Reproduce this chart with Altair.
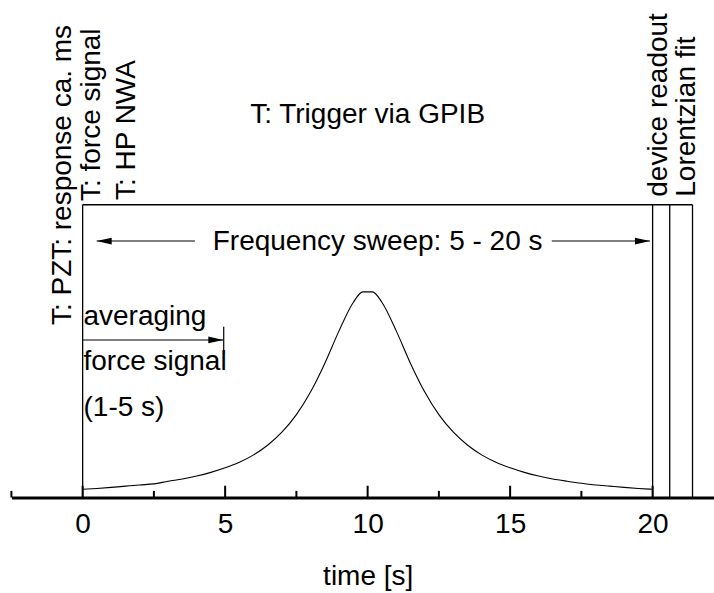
import altair as alt
import pandas as pd

# ---- data -------------------------------------------------------------
# Lorentzian-like response of the frequency sweep (normalised amplitude)
curve_t = [0, 0.5, 1, 1.5, 2, 2.5, 3, 3.5, 4, 4.5, 5, 5.5, 6, 6.5, 7, 7.5, 8, 8.5, 9, 9.5,
           9.833, 10.167,
           10.5, 11, 11.5, 12, 12.5, 13, 13.5, 14, 14.5, 15, 15.5, 16, 16.5, 17, 17.5,
           18, 18.5, 19, 19.5, 20]
curve_s = [0.040, 0.044, 0.049, 0.055, 0.061, 0.066, 0.079, 0.090, 0.104, 0.122, 0.144,
           0.171, 0.207, 0.255, 0.318, 0.402, 0.513, 0.652, 0.810, 0.948,
           0.998, 0.998,
           0.948, 0.810, 0.652, 0.513, 0.402, 0.318, 0.255, 0.207, 0.171, 0.144, 0.122,
           0.104, 0.090, 0.079, 0.069, 0.061, 0.055, 0.049, 0.044, 0.040]

major_ticks = [0, 5, 10, 15, 20]
minor_ticks = [-2.5, 2.5, 7.5, 12.5, 17.5]
event_times = [0, 20, 20.6, 21.4]          # trigger / sweep end / readout / fit
frame_top = 1.421                          # level of the timing frame

horiz_center_text = ["T: Trigger via GPIB", "Frequency sweep: 5 - 20 s"]
horiz_center_t = [10.0, 10.35]
horiz_center_s = [1.819, 1.2015]

horiz_left_text = ["averaging", "force signal", "(1-5 s)"]
horiz_left_t = [0.03, 0.03, 0.03]
horiz_left_s = [0.837, 0.619, 0.397]

vert_text = ["T: PZT: response ca. ms", "T: force signal", "T: HP NWA",
             "device readout", "Lorentzian fit"]
vert_t = [-0.41, 0.607, 1.835, 20.49, 21.48]
vert_s = [0.837, 1.439, 1.444, 1.46, 1.46]

# arrows: (start, end, level)
arrow_t1 = [0.493, 16.46, 0.0]
arrow_t2 = [3.94, 19.905, 4.935]
arrow_s = [1.245, 1.245, 0.7646]
left_heads_t = [0.493]
left_heads_s = [1.245]
right_heads_t = [19.905, 4.935]
right_heads_s = [1.245, 0.7646]

FONT = "Liberation Sans"
FS = 28
MAJOR_LEN = 0.057
MINOR_LEN = 0.032

xscale = alt.Scale(domain=[-2.5, 22.15], nice=False, zero=False)
yscale = alt.Scale(domain=[0, 2.415], nice=False, zero=True)
xaxis = alt.Axis(values=major_ticks, ticks=False, tickSize=0, grid=False,
                 domainWidth=3, domainColor="black",
                 labelFont=FONT, labelFontSize=FS, labelColor="black", labelPadding=13,
                 title="time [s]", titleFont=FONT, titleFontSize=FS,
                 titleFontWeight="normal", titleColor="black",
                 titleX=356.3, titleY=87.5, titleBaseline="alphabetic", titleAlign="center")

def X(field="t"):
    return alt.X(f"{field}:Q", scale=xscale, axis=xaxis, title="time [s]")

def Y(field="s"):
    return alt.Y(f"{field}:Q", scale=yscale, axis=None)

curve_df = pd.DataFrame({"t": curve_t, "s": curve_s})
curve = alt.Chart(curve_df).mark_line(color="black", strokeWidth=1.1, interpolate="monotone").encode(
    x=X(), y=Y())

ticks_df = pd.DataFrame({
    "t": major_ticks + minor_ticks,
    "s": [0.0] * (len(major_ticks) + len(minor_ticks)),
    "s2": [MAJOR_LEN] * len(major_ticks) + [MINOR_LEN] * len(minor_ticks),
})
ticks = alt.Chart(ticks_df).mark_rule(color="black", strokeWidth=2).encode(
    x=X(), y=Y(), y2="s2:Q")

events_df = pd.DataFrame({"t": event_times, "s": [0.0] * len(event_times),
                          "s2": [frame_top] * len(event_times)})
events = alt.Chart(events_df).mark_rule(color="black", strokeWidth=1.3).encode(
    x=X(), y=Y(), y2="s2:Q")
top_df = pd.DataFrame({"t": [min(event_times)], "t2": [max(event_times)], "s": [frame_top]})
top = alt.Chart(top_df).mark_rule(color="black", strokeWidth=1.3).encode(
    x=X(), x2="t2:Q", y=Y())

arrows_df = pd.DataFrame({"t": arrow_t1, "t2": arrow_t2, "s": arrow_s})
arrows = alt.Chart(arrows_df).mark_rule(color="black", strokeWidth=1.1).encode(
    x=X(), x2="t2:Q", y=Y())
bar_df = pd.DataFrame({"t": [4.95], "s": [0.6966], "s2": [0.829]})
bar = alt.Chart(bar_df).mark_rule(color="black", strokeWidth=1.2).encode(
    x=X(), y=Y(), y2="s2:Q")

lh = alt.Chart(pd.DataFrame({"t": left_heads_t, "s": left_heads_s})).mark_point(
    shape="M0,0L2,-0.45L2,0.45Z", size=225, filled=True, color="black", opacity=1, strokeWidth=0
).encode(x=X(), y=Y())
rh = alt.Chart(pd.DataFrame({"t": right_heads_t, "s": right_heads_s})).mark_point(
    shape="M0,0L-2,-0.45L-2,0.45Z", size=225, filled=True, color="black", opacity=1, strokeWidth=0
).encode(x=X(), y=Y())

hc = alt.Chart(pd.DataFrame({"t": horiz_center_t, "s": horiz_center_s, "label": horiz_center_text})).mark_text(
    font=FONT, fontSize=FS, color="black", align="center", baseline="alphabetic"
).encode(x=X(), y=Y(), text="label:N")
hl = alt.Chart(pd.DataFrame({"t": horiz_left_t, "s": horiz_left_s, "label": horiz_left_text})).mark_text(
    font=FONT, fontSize=FS, color="black", align="left", baseline="alphabetic"
).encode(x=X(), y=Y(), text="label:N")
vt = alt.Chart(pd.DataFrame({"t": vert_t, "s": vert_s, "label": vert_text})).mark_text(
    font=FONT, fontSize=FS, color="black", align="left", baseline="alphabetic", angle=270
).encode(x=X(), y=Y(), text="label:N")

chart = alt.layer(curve, ticks, events, top, arrows, bar, lh, rh, hc, hl, vt).properties(
    width=702.5, height=497.5,
    autosize=alt.AutoSizeParams(type="none"),
    padding={"left": 11.4, "top": 0, "right": 0, "bottom": 95.5},
    background="white",
).configure_view(stroke=None)

chart.save("out.html", embed_options={"renderer": "svg", "actions": False})
